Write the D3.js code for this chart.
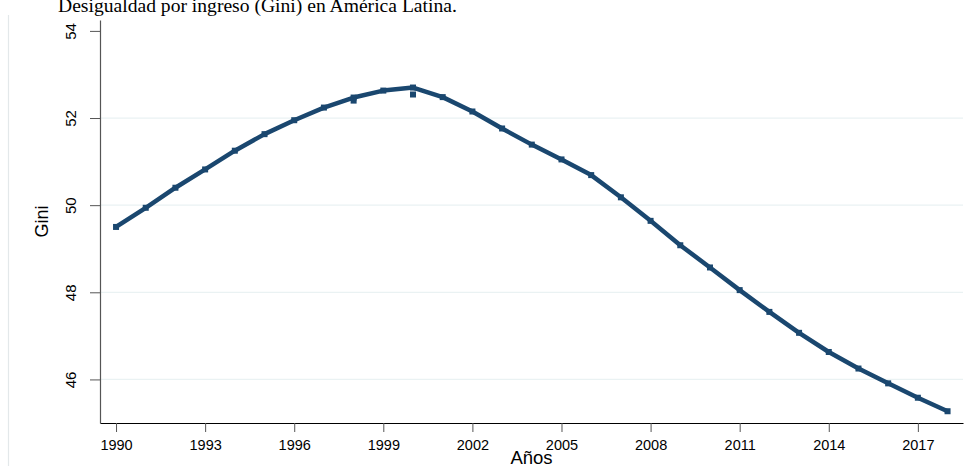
<!DOCTYPE html>
<html>
<head>
<meta charset="utf-8">
<script src="https://cdn.jsdelivr.net/npm/d3@7"></script>
<style>
    body { margin: 0; background: #fff; }
    svg { display: block; }
</style>
</head>
<body>
<div id="chart"></div>
<script>
// datos
const years = [1990, 1991, 1992, 1993, 1994, 1995, 1996, 1997, 1998, 1999,
    2000, 2001, 2002, 2003, 2004, 2005, 2006, 2007, 2008, 2009,
    2010, 2011, 2012, 2013, 2014, 2015, 2016, 2017, 2018];
const gini = [49.50, 49.94, 50.40, 50.82, 51.25, 51.63, 51.95, 52.24, 52.47, 52.63,
    52.70, 52.48, 52.15, 51.76, 51.39, 51.05, 50.69, 50.18, 49.64, 49.08,
    48.57, 48.05, 47.55, 47.07, 46.63, 46.25, 45.91, 45.58, 45.27];
// observaciones repetidas (marcadores sueltos)
const extraYears = [1998, 2000];
const extraGini = [52.40, 52.54];
const xTicks = [1990, 1993, 1996, 1999, 2002, 2005, 2008, 2011, 2014, 2017];
const yTicks = [46, 48, 50, 52, 54];
const gridTicks = [46, 48, 50, 52];

class GiniChart {
    constructor(element, configs = {}) {
        let defaultConfig = {
            width: 973,
            height: 466,
            plot: { left: 100, right: 963, top: 20, bottom: 423 },
            color: "#1a476f"
        };
        this.config = Object.assign({}, defaultConfig, configs);
        this.svg = d3.select(element).append("svg")
            .attr("width", this.config.width)
            .attr("height", this.config.height)
            .style("font-family", "Arial, 'Liberation Sans', sans-serif");
        this.data = years.map((y, i) => ({ x: y, y: gini[i] }));
        this.extra = extraYears.map((y, i) => ({ x: y, y: extraGini[i] }));
        this.draw();
    }

    generateRange() {
        let p = this.config.plot;
        this.xRange = d3.scaleLinear().domain([1989.46, 2018.52]).range([p.left, p.right]);
        this.yRange = d3.scaleLinear().domain([45, 54.25]).range([p.bottom, p.top]);
    }

    drawFrame() {
        // borde izquierdo tenue de la region del grafico
        this.svg.append("line")
            .attr("x1", 8.5).attr("x2", 8.5)
            .attr("y1", 15).attr("y2", this.config.height)
            .attr("stroke", "#e3e8ea")
            .attr("stroke-width", 1.2);

        this.svg.append("text")
            .attr("x", 58)
            .attr("y", 12)
            .style("font-family", "'Liberation Serif', 'Times New Roman', serif")
            .style("font-size", "19.6px")
            .attr("fill", "#000")
            .text("Desigualdad por ingreso (Gini) en América Latina.");
    }

    drawGrid() {
        let p = this.config.plot;
        this.svg.append("g")
            .attr("class", "grid")
            .selectAll("line")
            .data(gridTicks)
            .enter()
            .append("line")
            .attr("x1", p.left)
            .attr("x2", p.right)
            .attr("y1", d => this.yRange(d))
            .attr("y2", d => this.yRange(d))
            .attr("stroke", "#eaf2f3")
            .attr("stroke-width", 1.3);
    }

    drawAxis() {
        let p = this.config.plot;
        let xAxis = this.svg.append("g")
            .attr("class", "axisX")
            .attr("transform", "translate(0," + p.bottom + ")")
            .call(d3.axisBottom(this.xRange).tickValues(xTicks).tickFormat(d3.format("d"))
                .tickSize(9).tickSizeOuter(0).tickPadding(8));
        xAxis.select(".domain").attr("stroke", "#000").attr("stroke-width", 1.2);
        xAxis.selectAll(".tick line").attr("stroke", "#555");
        xAxis.selectAll(".tick text")
            .style("font-size", "14.5px")
            .attr("fill", "#000");

        let yAxis = this.svg.append("g")
            .attr("class", "axisY")
            .attr("transform", "translate(" + p.left + ",0)")
            .call(d3.axisLeft(this.yRange).tickValues(yTicks).tickSize(10).tickSizeOuter(0));
        yAxis.select(".domain").attr("stroke", "#555").attr("stroke-width", 1.2);
        yAxis.selectAll(".tick line").attr("stroke", "#555");
        // etiquetas verticales como en Stata
        yAxis.selectAll(".tick text")
            .attr("x", null)
            .attr("dy", null)
            .attr("text-anchor", "middle")
            .attr("transform", "translate(-24,0) rotate(-90)")
            .style("font-size", "15px")
            .attr("fill", "#000");

        this.svg.append("text")
            .attr("transform", "translate(48," + ((p.top + p.bottom) / 2) + ") rotate(-90)")
            .attr("text-anchor", "middle")
            .style("font-size", "18px")
            .text("Gini");

        this.svg.append("text")
            .attr("x", (p.left + p.right) / 2)
            .attr("y", 464)
            .attr("text-anchor", "middle")
            .style("font-size", "18.5px")
            .text("Años");
    }

    drawLine() {
        let line = d3.line()
            .x(d => this.xRange(d.x))
            .y(d => this.yRange(d.y));

        this.svg.append("path")
            .datum(this.data)
            .attr("fill", "none")
            .attr("stroke", this.config.color)
            .attr("stroke-width", 4.5)
            .attr("stroke-linejoin", "round")
            .attr("d", line);

        let s = 6;
        this.svg.append("g")
            .attr("class", "markers")
            .selectAll("rect")
            .data(this.data.concat(this.extra))
            .enter()
            .append("rect")
            .attr("x", d => this.xRange(d.x) - s / 2)
            .attr("y", d => this.yRange(d.y) - s / 2)
            .attr("width", s)
            .attr("height", s)
            .attr("fill", this.config.color);
    }

    draw() {
        this.generateRange();
        this.drawFrame();
        this.drawGrid();
        this.drawAxis();
        this.drawLine();
    }
}

new GiniChart("#chart");
</script>
</body>
</html>
